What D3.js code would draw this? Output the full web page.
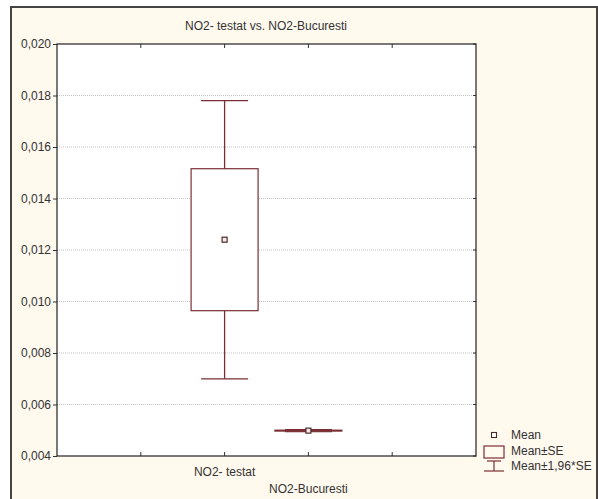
<!DOCTYPE html>
<html><head><meta charset="utf-8">
<script src="https://cdn.jsdelivr.net/npm/d3@7"></script>
<style>body{margin:0;background:#fff}svg{display:block}</style>
</head><body>
<script>
const categories = ["NO2- testat", "NO2-Bucuresti"];
const means = [0.01240, 0.004985];
const se = [0.002757, 0.000018];
const yTicks = [0.004, 0.006, 0.008, 0.010, 0.012, 0.014, 0.016, 0.018, 0.020];
const legendLabels = ["Mean", "Mean\u00b1SE", "Mean\u00b11,96*SE"];
const title = "NO2- testat vs. NO2-Bucuresti";

const W = 598, H = 499;
const svg = d3.select("body").append("svg").attr("width", W).attr("height", H)
  .style("font-family", "'Liberation Sans', Arial, sans-serif");

svg.append("rect").attr("x", 0).attr("y", 0).attr("width", W).attr("height", H).attr("fill", "#fff");
svg.append("rect").attr("x", 11).attr("y", 7).attr("width", W - 12).attr("height", H).attr("fill", "#fff9ee")
  .attr("stroke", "#444").attr("stroke-width", 2);

const L = 57, T = 44, R = 476, B = 456;
const y = d3.scaleLinear().domain([0.004, 0.020]).range([B, T]);
const x = d3.scaleLinear().domain([0, 5]).range([L, R]);
const xpos = i => x(i + 2);

svg.append("rect").attr("x", L).attr("y", T).attr("width", R - L).attr("height", B - T).attr("fill", "#fff");

svg.append("g").selectAll("line").data(yTicks.slice(1, -1)).join("line")
  .attr("x1", L).attr("x2", R).attr("y1", d => y(d)).attr("y2", d => y(d))
  .attr("stroke", "#c4c4c4").attr("stroke-dasharray", "1,1");

const fmt = d => d3.format(".3f")(d).replace(".", ",");
const yAxis = d3.axisLeft(y).tickValues(yTicks).tickFormat(fmt).tickSize(4).tickSizeOuter(0);
const gy = svg.append("g").attr("transform", `translate(${L},0)`).call(yAxis);
gy.select(".domain").remove();
gy.selectAll("text").attr("font-size", 12).attr("fill", "#333").attr("x", -6);
gy.selectAll("line").attr("stroke", "#333");
svg.append("g").selectAll("line").data(yTicks).join("line")
  .attr("x1", R - 3).attr("x2", R).attr("y1", d => y(d)).attr("y2", d => y(d)).attr("stroke", "#333");
const xt = [1, 2, 3, 4];
svg.append("g").selectAll("line").data(xt).join("line")
  .attr("x1", d => x(d)).attr("x2", d => x(d)).attr("y1", T).attr("y2", T + 4).attr("stroke", "#333");
svg.append("g").selectAll("line").data(xt).join("line")
  .attr("x1", d => x(d)).attr("x2", d => x(d)).attr("y1", B).attr("y2", B - 4).attr("stroke", "#333");

svg.append("rect").attr("x", L).attr("y", T).attr("width", R - L).attr("height", B - T)
  .attr("fill", "none").attr("stroke", "#222").attr("stroke-width", 1.2);

svg.append("g").selectAll("text").data(categories).join("text")
  .attr("x", (d, i) => xpos(i)).attr("y", (d, i) => i === 0 ? 476 : 493)
  .attr("text-anchor", "middle").attr("font-size", 12).attr("fill", "#333").text(d => d);

svg.append("text").attr("x", 266).attr("y", 30).attr("text-anchor", "middle")
  .attr("font-size", 12).attr("fill", "#333").text(title);

const col = "#7a2f35";
const boxW = 67, capW = 47, ms = 5;
categories.forEach((c, i) => {
  const cx = xpos(i), m = means[i], s = se[i];
  const g = svg.append("g");
  g.append("line").attr("x1", cx).attr("x2", cx).attr("y1", y(m + 1.96 * s)).attr("y2", y(m - 1.96 * s))
    .attr("stroke", col).attr("stroke-width", 1.3);
  g.append("line").attr("x1", cx - capW / 2).attr("x2", cx + capW / 2).attr("y1", y(m + 1.96 * s)).attr("y2", y(m + 1.96 * s))
    .attr("stroke", col).attr("stroke-width", 1.3);
  g.append("line").attr("x1", cx - capW / 2).attr("x2", cx + capW / 2).attr("y1", y(m - 1.96 * s)).attr("y2", y(m - 1.96 * s))
    .attr("stroke", col).attr("stroke-width", 1.3);
  g.append("rect").attr("x", cx - boxW / 2).attr("y", y(m + s)).attr("width", boxW)
    .attr("height", Math.max(0.5, y(m - s) - y(m + s)))
    .attr("fill", "#fff").attr("stroke", col).attr("stroke-width", 1.2);
  g.append("rect").attr("x", cx - ms / 2).attr("y", y(m) - ms / 2).attr("width", ms).attr("height", ms)
    .attr("fill", "#fde8e8").attr("stroke", "#4a2a2a").attr("stroke-width", 1.2);
});

const lg = svg.append("g");
lg.append("rect").attr("x", 491.5).attr("y", 432.5).attr("width", 5).attr("height", 5)
  .attr("fill", "#fff").attr("stroke", "#4a2a2a").attr("stroke-width", 1.1);
lg.append("rect").attr("x", 484).attr("y", 446).attr("width", 20).attr("height", 12)
  .attr("fill", "none").attr("stroke", col).attr("stroke-width", 1.2);
lg.append("line").attr("x1", 487).attr("x2", 501).attr("y1", 461).attr("y2", 461).attr("stroke", col).attr("stroke-width", 1.2);
lg.append("line").attr("x1", 494).attr("x2", 494).attr("y1", 461).attr("y2", 471).attr("stroke", col).attr("stroke-width", 1.2);
lg.append("line").attr("x1", 484).attr("x2", 504).attr("y1", 471).attr("y2", 471).attr("stroke", col).attr("stroke-width", 1.2);
lg.selectAll("text").data(legendLabels).join("text")
  .attr("x", 511).attr("y", (d, i) => 439 + i * 15.5).attr("font-size", 12).attr("fill", "#333").text(d => d);
</script>
</body></html>
